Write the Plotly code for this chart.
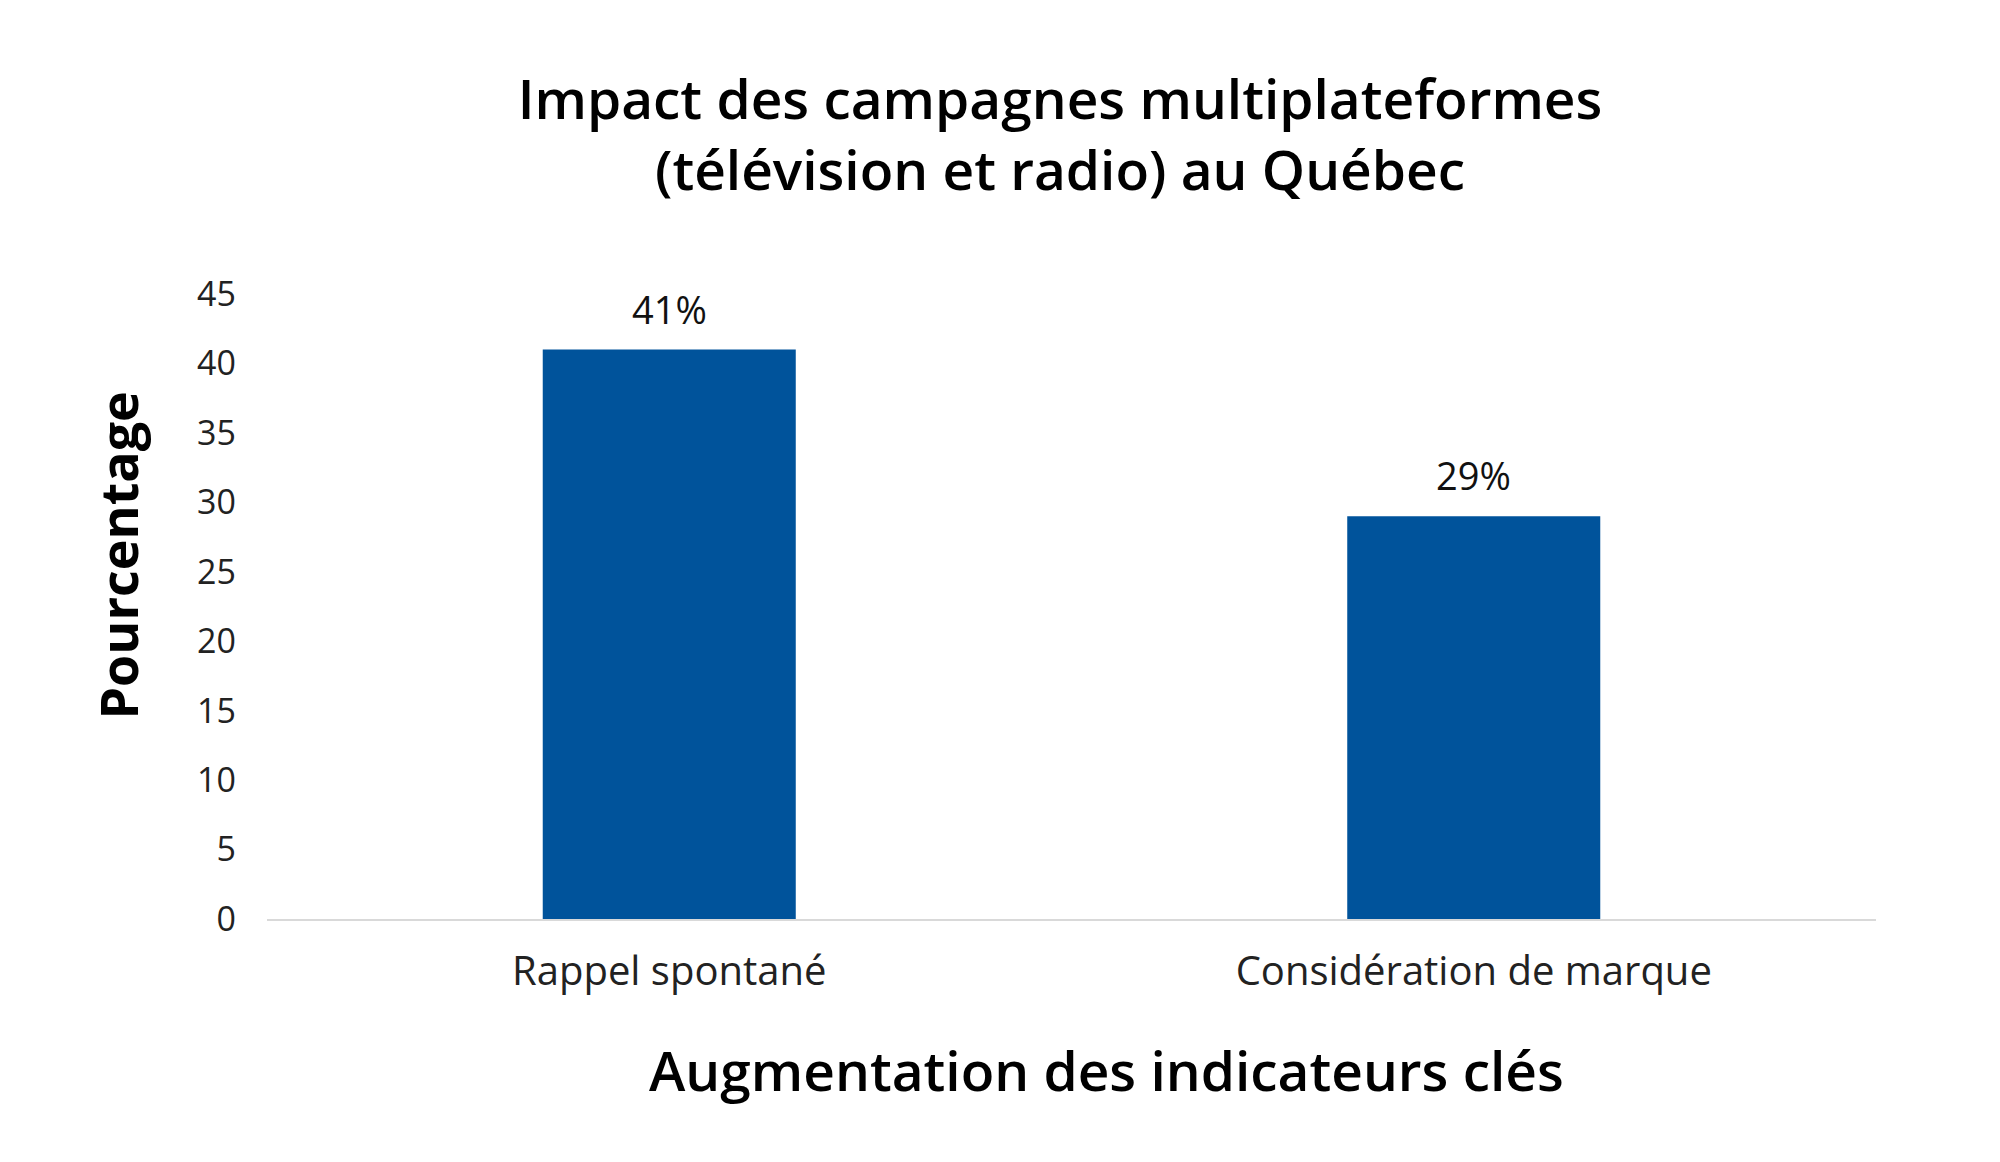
import plotly.graph_objects as go

categories = ["Rappel spontané", "Considération de marque"]
values = [41, 29]
labels = ["41%", "29%"]
y_ticks = [0, 5, 10, 15, 20, 25, 30, 35, 40, 45]

W, H = 2000, 1162
L, R, T, B = 259, 132, 286, 251

fig = go.Figure(
    go.Bar(
        x=categories,
        y=values,
        marker=dict(color="#00539B", line=dict(width=0)),
    )
)

annotations = []
for c, v, t in zip(categories, values, labels):
    annotations.append(dict(
        x=c, y=v, xref="x", yref="y", text=t, showarrow=False,
        yanchor="middle", yshift=41,
        font=dict(family="Open Sans", size=38, color="#111111"),
    ))

annotations.append(dict(
    text="Pourcentage", xref="paper", yref="paper", x=-0.093, y=0.582,
    xanchor="center", yanchor="middle", textangle=-90, showarrow=False,
    font=dict(family="Open Sans", size=52, color="#000000", weight="bold"),
))
annotations.append(dict(
    text="Augmentation des indicateurs clés", xref="paper", yref="paper",
    x=0.5215, y=-0.24, xanchor="center", yanchor="middle", showarrow=False,
    font=dict(family="Open Sans", size=55, color="#000000", weight=600),
))

fig.update_layout(
    width=W,
    height=H,
    margin=dict(l=L, r=R, t=T, b=B),
    paper_bgcolor="white",
    plot_bgcolor="white",
    bargap=0.6855,
    showlegend=False,
    annotations=annotations,
    title=dict(
        text="Impact des campagnes multiplateformes<br>(télévision et radio) au Québec",
        x=0.526,
        xanchor="center",
        y=1 - 110.5 / H,
        yanchor="middle",
        font=dict(family="Open Sans", size=55, color="#000000", weight=600),
    ),
)

fig.update_yaxes(
    range=[0, 45],
    tickvals=y_ticks,
    showgrid=False,
    zeroline=False,
    showline=False,
    ticks="",
    ticklabelstandoff=30,
    tickfont=dict(family="Open Sans", size=34, color="#222222"),
)

fig.update_xaxes(
    showgrid=False,
    showline=True,
    linecolor="#D9D9D9",
    linewidth=2,
    ticks="",
    ticklabelstandoff=16,
    tickfont=dict(family="Open Sans", size=40, color="#222222"),
)

fig.write_html("out.html")
